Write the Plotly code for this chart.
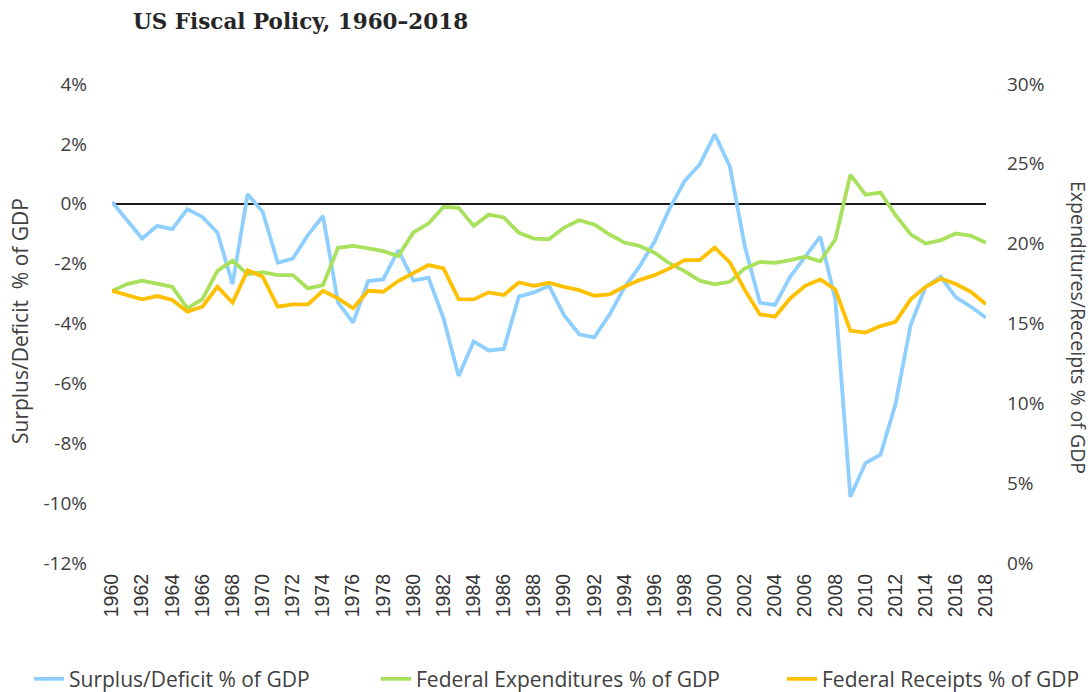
import plotly.graph_objects as go

years = list(range(1960, 2019))

surplus_deficit = [
    0.06, -0.55, -1.16, -0.74, -0.85, -0.18, -0.44, -0.97, -2.68, 0.32,
    -0.27, -1.97, -1.83, -1.05, -0.41, -3.3, -3.97, -2.58, -2.53, -1.55,
    -2.57, -2.47, -3.83, -5.75, -4.6, -4.9, -4.85, -3.1, -2.96, -2.74,
    -3.72, -4.36, -4.46, -3.72, -2.8, -2.1, -1.27, -0.16, 0.76, 1.31,
    2.32, 1.25, -1.44, -3.31, -3.38, -2.44, -1.77, -1.1, -3.2, -9.79,
    -8.66, -8.38, -6.68, -4.05, -2.77, -2.44, -3.13, -3.44, -3.81,
]

expenditures = [
    17.03, 17.47, 17.68, 17.51, 17.3, 15.95, 16.53, 18.3, 18.93, 18.08,
    18.22, 18.03, 18.03, 17.2, 17.4, 19.74, 19.86, 19.7, 19.53, 19.22,
    20.7, 21.26, 22.3, 22.24, 21.11, 21.82, 21.64, 20.68, 20.32, 20.28,
    21.01, 21.47, 21.2, 20.59, 20.07, 19.86, 19.43, 18.76, 18.28, 17.68,
    17.45, 17.61, 18.45, 18.86, 18.8, 18.97, 19.18, 18.9, 20.26, 24.32,
    23.07, 23.2, 21.78, 20.59, 20.01, 20.22, 20.64, 20.49, 20.05,
]

receipts = [
    17.05, 16.78, 16.51, 16.72, 16.47, 15.74, 16.05, 17.3, 16.3, 18.34,
    17.93, 16.05, 16.2, 16.2, 17.05, 16.57, 15.95, 17.05, 16.99, 17.66,
    18.14, 18.66, 18.45, 16.53, 16.51, 16.95, 16.78, 17.57, 17.36, 17.55,
    17.3, 17.09, 16.74, 16.82, 17.3, 17.72, 18.03, 18.45, 18.97, 18.97,
    19.76, 18.82, 17.09, 15.57, 15.43, 16.57, 17.36, 17.76, 17.13, 14.55,
    14.43, 14.84, 15.11, 16.51, 17.3, 17.82, 17.47, 16.99, 16.2,
]

x_tick_vals = list(range(1960, 2019, 2))
x_tick_text = [str(y) for y in x_tick_vals]
left_tick_vals = list(range(-12, 5, 2))
left_tick_text = [f"{v}%" for v in left_tick_vals]
right_tick_vals = list(range(0, 31, 5))
right_tick_text = [f"{v}%" for v in right_tick_vals]

BLUE = "#8ECFFF"
GREEN = "#A9E05C"
YELLOW = "#FFC000"
TEXT = "#404040"
FONT = "Open Sans"

fig = go.Figure()
fig.add_trace(go.Scatter(x=years, y=surplus_deficit, mode="lines",
                         name="Surplus/Deficit % of GDP",
                         line=dict(color=BLUE, width=3.8), yaxis="y",
                         legend="legend2"))
fig.add_trace(go.Scatter(x=years, y=expenditures, mode="lines",
                         name="Federal Expenditures % of GDP",
                         line=dict(color=GREEN, width=3.8), yaxis="y2",
                         legend="legend3"))
fig.add_trace(go.Scatter(x=years, y=receipts, mode="lines",
                         name="Federal Receipts % of GDP",
                         line=dict(color=YELLOW, width=3.8), yaxis="y2",
                         legend="legend4"))

W, H = 1092, 692
L, R, T, B = 112, 106, 83.5, 128.5
pw = W - L - R
ph = H - T - B

def px_x(p):
    return (p - L) / pw

def px_y(p):
    return (H - B - p) / ph

legend_common = dict(orientation="h", yanchor="middle", xanchor="left",
                     font=dict(family=FONT, size=21, color=TEXT),
                     bgcolor="rgba(0,0,0,0)", itemwidth=30)

fig.update_layout(
    width=W, height=H,
    margin=dict(l=L, r=R, t=T, b=B, autoexpand=False),
    paper_bgcolor="white", plot_bgcolor="white",
    showlegend=True,
    title=dict(text="<b>US Fiscal Policy, 1960–2018</b>",
               font=dict(family="DejaVu Serif", size=21.5, color="#262626"),
               x=133 / W, xanchor="left", xref="container",
               y=1 - 21 / H, yanchor="middle", yref="container"),
    xaxis=dict(range=[1960, 2018], tickmode="array", tickvals=x_tick_vals,
               ticktext=x_tick_text, tickangle=-90, showgrid=False,
               zeroline=False, showline=False, ticks="",
               tickfont=dict(family="Liberation Sans", size=19.5, color="#333333"),
               ticklabelstandoff=6),
    yaxis=dict(range=[-12, 4], tickmode="array", tickvals=left_tick_vals,
               ticktext=left_tick_text, showgrid=False,
               zeroline=True, zerolinecolor="#1a1a1a", zerolinewidth=1.5,
               showline=False, ticks="",
               tickfont=dict(family=FONT, size=19, color=TEXT),
               ticklabelstandoff=24),
    yaxis2=dict(range=[0, 30], tickmode="array", tickvals=right_tick_vals,
                ticktext=right_tick_text, overlaying="y",
                side="right", showgrid=False, zeroline=False, showline=False,
                ticks="", tickfont=dict(family=FONT, size=19, color=TEXT),
                ticklabelstandoff=20),
    legend2=dict(x=px_x(29), y=px_y(680), **legend_common),
    legend3=dict(x=px_x(376), y=px_y(680), **legend_common),
    legend4=dict(x=px_x(782), y=px_y(680), **legend_common),
    annotations=[
        dict(text="Surplus/Deficit\u00a0 % of GDP", xref="paper", yref="paper",
             x=px_x(20), y=px_y(321), xanchor="center", yanchor="middle",
             textangle=-90, showarrow=False,
             font=dict(family=FONT, size=21, color=TEXT)),
        dict(text="Expenditures/Receipts % of GDP", xref="paper", yref="paper",
             x=px_x(1078), y=px_y(327), xanchor="center", yanchor="middle",
             textangle=90, showarrow=False,
             font=dict(family=FONT, size=19.5, color=TEXT)),
    ],
)

fig.write_html("out.html",
               config={"displayModeBar": False},
               post_script="document.body.style.margin='0';document.body.style.overflow='hidden';")
